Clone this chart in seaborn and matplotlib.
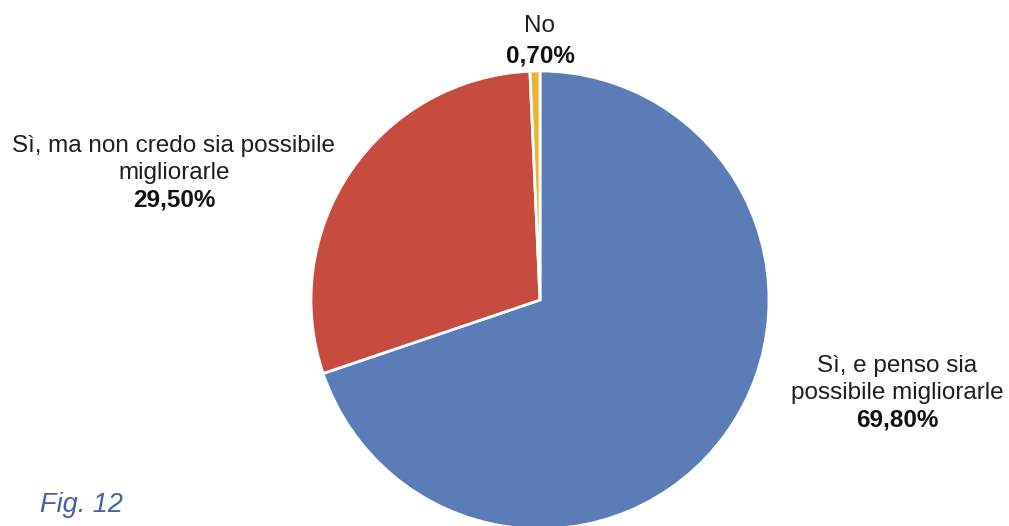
import matplotlib
matplotlib.use("Agg")
import matplotlib.pyplot as plt
import seaborn as sns

# Survey answers and their shares (%)
categories = [["Sì, e penso sia", "possibile migliorarle"],
              ["Sì, ma non credo sia possibile", "migliorarle"],
              ["No"]]
values = [69.8, 29.5, 0.7]
colors = ["#5b7cb6", "#c64c3f", "#e9b534"]

sns.set_theme(style="white")
plt.rcParams["font.family"] = ["Liberation Sans", "DejaVu Sans"]

W, H = 1009, 526
fig = plt.figure(figsize=(W / 100, H / 100), dpi=100)
ax = fig.add_axes([0, 0, 1, 1])

cx, cy, r = 540, H - 300, 229
ax.pie(values, colors=colors, startangle=90, counterclock=False,
       center=(cx, cy), radius=r, frame=True,
       wedgeprops=dict(edgecolor="white", linewidth=2))
ax.set_xlim(0, W)
ax.set_ylim(0, H)
ax.set_aspect("equal")
ax.axis("off")


def fmt(v):
    return f"{v:.2f}".replace(".", ",") + "%"


# label block: centre x and baseline of the first line (pixels from top)
label_pos = [(897, 372), (174, 152), (540, 32)]
step = 27
fs = 17.5

for lines, v, (x, y0) in zip(categories, values, label_pos):
    y = y0
    for line in lines:
        ax.text(x, H - y, line, ha="center", va="baseline", fontsize=fs,
                color="#1e1e1e")
        y += step
    if len(lines) == 1:
        y += 3
    ax.text(x, H - y, fmt(v), ha="center", va="baseline", fontsize=fs,
            fontweight="bold", color="#111111")

ax.text(40, H - 512, "Fig. 12", ha="left", va="baseline", fontsize=19.5,
        style="italic", color="#4562a0")

fig.savefig("out.png", dpi=100, facecolor="white")
